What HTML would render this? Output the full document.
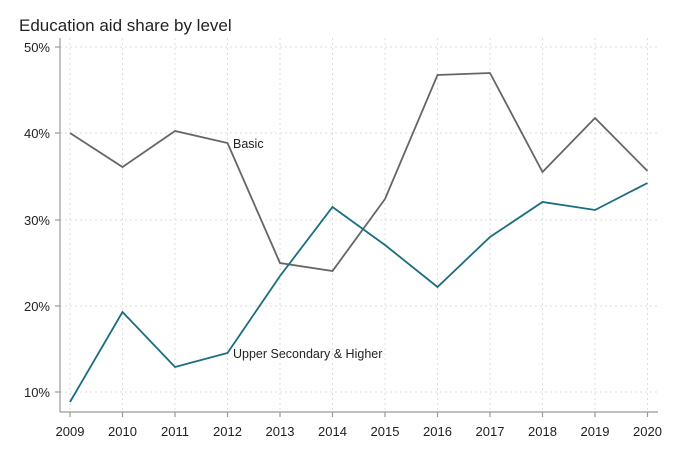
<!DOCTYPE html>
<html><head><style>body{margin:0;background:#fff}svg{display:block}text{font-family:"Liberation Sans",sans-serif;fill:#222}</style></head><body>
<svg width="675" height="456" viewBox="0 0 675 456">
<rect width="675" height="456" fill="#fff"/>
<text x="19" y="31" font-size="17">Education aid share by level</text>
<g stroke="#ddd" stroke-dasharray="2,3" stroke-width="1">
<line x1="60" y1="47" x2="658" y2="47"/><line x1="60" y1="133" x2="658" y2="133"/><line x1="60" y1="220" x2="658" y2="220"/><line x1="60" y1="306" x2="658" y2="306"/><line x1="60" y1="392" x2="658" y2="392"/>
<line x1="70" y1="38" x2="70" y2="412"/><line x1="122.5" y1="38" x2="122.5" y2="412"/><line x1="175" y1="38" x2="175" y2="412"/><line x1="227.5" y1="38" x2="227.5" y2="412"/><line x1="280" y1="38" x2="280" y2="412"/><line x1="332.5" y1="38" x2="332.5" y2="412"/><line x1="385" y1="38" x2="385" y2="412"/><line x1="437.5" y1="38" x2="437.5" y2="412"/><line x1="490" y1="38" x2="490" y2="412"/><line x1="542.5" y1="38" x2="542.5" y2="412"/><line x1="595" y1="38" x2="595" y2="412"/><line x1="647.5" y1="38" x2="647.5" y2="412"/>
</g>
<g stroke="#999" stroke-width="1.2">
<line x1="60" y1="38" x2="60" y2="412"/><line x1="60" y1="412" x2="658" y2="412"/>
<line x1="55" y1="47" x2="60" y2="47"/><line x1="55" y1="133" x2="60" y2="133"/><line x1="55" y1="220" x2="60" y2="220"/><line x1="55" y1="306" x2="60" y2="306"/><line x1="55" y1="392" x2="60" y2="392"/>
<line x1="70" y1="412" x2="70" y2="417"/><line x1="122.5" y1="412" x2="122.5" y2="417"/><line x1="175" y1="412" x2="175" y2="417"/><line x1="227.5" y1="412" x2="227.5" y2="417"/><line x1="280" y1="412" x2="280" y2="417"/><line x1="332.5" y1="412" x2="332.5" y2="417"/><line x1="385" y1="412" x2="385" y2="417"/><line x1="437.5" y1="412" x2="437.5" y2="417"/><line x1="490" y1="412" x2="490" y2="417"/><line x1="542.5" y1="412" x2="542.5" y2="417"/><line x1="595" y1="412" x2="595" y2="417"/><line x1="647.5" y1="412" x2="647.5" y2="417"/>
</g>
<g font-size="13" text-anchor="end">
<text x="50" y="52">50%</text><text x="50" y="138">40%</text><text x="50" y="225">30%</text><text x="50" y="311">20%</text><text x="50" y="397">10%</text>
</g>
<g font-size="13" text-anchor="middle">
<text x="70" y="436">2009</text><text x="122.5" y="436">2010</text><text x="175" y="436">2011</text><text x="227.5" y="436">2012</text><text x="280" y="436">2013</text><text x="332.5" y="436">2014</text><text x="385" y="436">2015</text><text x="437.5" y="436">2016</text><text x="490" y="436">2017</text><text x="542.5" y="436">2018</text><text x="595" y="436">2019</text><text x="647.5" y="436">2020</text>
</g>
<polyline fill="none" stroke="#666" stroke-width="1.8" points="70,133 122.5,167 175,131 227.5,143 280,263 332.5,271 385,199 437.5,75 490,73 542.5,172 595,118 647.5,171"/>
<polyline fill="none" stroke="#1a6e80" stroke-width="1.8" points="70,402 122.5,312 175,367 227.5,353 280,276 332.5,207 385,245 437.5,287 490,237 542.5,202 595,210 647.5,183"/>
<text x="233" y="148" font-size="12.5" fill="#333">Basic</text>
<text x="233" y="358" font-size="12.5" fill="#333">Upper Secondary &amp; Higher</text>
</svg>
</body></html>
